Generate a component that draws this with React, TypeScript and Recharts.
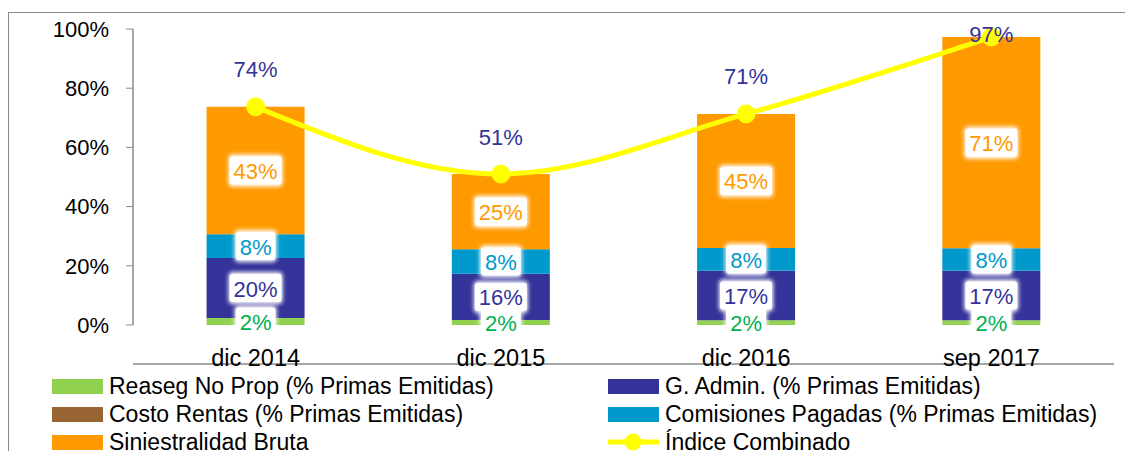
import React from "react";
import { ComposedChart, Bar, Line, XAxis, YAxis, LabelList } from "recharts";

const periods = ["dic 2014", "dic 2015", "dic 2016", "sep 2017"];
const reasegNoProp = [2.4, 1.7, 1.6, 1.6];
const costoRentas = [0, 0, 0, 0];
const gAdmin = [20.2, 15.6, 16.7, 16.7];
const comisiones = [8.1, 8.3, 7.7, 7.6];
const siniestralidad = [43.0, 25.4, 45.3, 71.4];
const indiceCombinado = [73.7, 51.0, 71.3, 97.3];
const yTicks = [0, 20, 40, 60, 80, 100];
const edgeTicks = [0, 1, 2, 3, 4];

const FONT = "'Liberation Sans', Arial, sans-serif";

const data = periods.map((p, i) => ({
  period: p,
  reaseg: reasegNoProp[i],
  costo: costoRentas[i],
  admin: gAdmin[i],
  comis: comisiones[i],
  sini: siniestralidad[i],
  indice: indiceCombinado[i],
}));

const legendItems = [
  { name: "Reaseg No Prop (% Primas Emitidas)", color: "#92D050" },
  { name: "G. Admin. (% Primas Emitidas)", color: "#333399" },
  { name: "Costo Rentas (% Primas Emitidas)", color: "#996633" },
  { name: "Comisiones Pagadas (% Primas Emitidas)", color: "#0099CC" },
  { name: "Siniestralidad Bruta", color: "#FF9900" },
  { name: "Índice Combinado", color: "#FFFF00", line: true },
];

// white glowing box behind each in-bar label, like Excel
const boxLabel = (color: string) => (props: any) => {
  const { x, y, width, height, value } = props;
  if (!value) return null;
  const text = `${Math.round(value)}%`;
  const w = (text.length - 1) * 12.2 + 19.6 + 8;
  const cx = x + width / 2;
  const cy = y + height / 2;
  return (
    <g>
      <rect x={cx - w / 2 - 1} y={cy - 16} width={w + 2} height={32} rx={4} fill="#fff" filter="url(#glow)" />
      <rect x={cx - w / 2} y={cy - 14} width={w} height={28} rx={3} fill="#fff" />
      <text x={cx} y={cy + 1} textAnchor="middle" dominantBaseline="central" fill={color} fontSize={22} fontFamily={FONT}>
        {text}
      </text>
    </g>
  );
};

const lineLabel = (props: any) => {
  const { x, y, value } = props;
  const cy = Math.max(y - 37, 22);
  return (
    <text x={x} y={cy} textAnchor="middle" dominantBaseline="central" fill="#333399" fontSize={22} fontFamily={FONT}>
      {`${Math.round(value)}%`}
    </text>
  );
};

export default function App() {
  return (
    <div style={{ position: "relative", width: 1133, height: 443, overflow: "hidden", fontFamily: FONT }}>
      <style>{`html, body { overflow: hidden; }`}</style>
      <div style={{ position: "absolute", top: 4, left: 0, right: -10, bottom: -10, borderTop: "1px solid #8a8a8a", borderLeft: "1px solid #8a8a8a" }} />
      <div style={{ position: "absolute", top: 4, left: 0 }}>
        <ComposedChart width={1125} height={360} data={data} margin={{ top: 17, right: 19, left: 0, bottom: 7 }} barCategoryGap="30%">
          <defs>
            <filter id="glow" x="-20%" y="-20%" width="140%" height="140%">
              <feGaussianBlur stdDeviation="2" />
            </filter>
          </defs>
          <XAxis
            xAxisId="edges"
            type="number"
            domain={[0, 4]}
            ticks={edgeTicks}
            allowDataOverflow
            height={1}
            tick={false}
            tickSize={7}
            tickLine={{ stroke: "#8a8a8a" }}
            axisLine={{ stroke: "#8a8a8a", strokeWidth: 1.5 }}
          />
          <XAxis
            xAxisId="cat"
            dataKey="period"
            height={39}
            axisLine={false}
            tickLine={false}
            tickSize={0}
            tickMargin={24}
            tick={{ fontSize: 23.5, fill: "#000", fontFamily: FONT }}
          />
          <YAxis
            domain={[0, 100]}
            ticks={yTicks}
            width={125}
            tickFormatter={(v) => `${v}%`}
            tick={{ fontSize: 22, fill: "#000", fontFamily: FONT }}
            tickSize={7}
            tickMargin={17}
            tickLine={{ stroke: "#8a8a8a" }}
            axisLine={{ stroke: "#8a8a8a", strokeWidth: 1.5 }}
          />
          <Bar xAxisId="cat" dataKey="reaseg" stackId="a" fill="#92D050" isAnimationActive={false}>
            <LabelList dataKey="reaseg" content={boxLabel("#00B050")} />
          </Bar>
          <Bar xAxisId="cat" dataKey="costo" stackId="a" fill="#996633" isAnimationActive={false} />
          <Bar xAxisId="cat" dataKey="admin" stackId="a" fill="#333399" isAnimationActive={false}>
            <LabelList dataKey="admin" content={boxLabel("#333399")} />
          </Bar>
          <Bar xAxisId="cat" dataKey="comis" stackId="a" fill="#0099CC" isAnimationActive={false}>
            <LabelList dataKey="comis" content={boxLabel("#0099CC")} />
          </Bar>
          <Bar xAxisId="cat" dataKey="sini" stackId="a" fill="#FF9900" isAnimationActive={false}>
            <LabelList dataKey="sini" content={boxLabel("#FF9900")} />
          </Bar>
          <Line
            xAxisId="cat"
            type="monotone"
            dataKey="indice"
            stroke="#FFFF00"
            strokeWidth={5}
            dot={{ r: 9, fill: "#FFFF00", stroke: "#FFFF00", strokeWidth: 1 }}
            isAnimationActive={false}
          >
            <LabelList dataKey="indice" content={lineLabel} />
          </Line>
        </ComposedChart>
      </div>
      <div
        style={{
          position: "absolute",
          top: 364,
          left: 44,
          display: "grid",
          gridTemplateColumns: "556px 520px",
          fontSize: 23,
          color: "#000",
        }}
      >
        {legendItems.map((it) => (
          <div key={it.name} style={{ display: "flex", alignItems: "center", height: 28, whiteSpace: "nowrap" }}>
            {it.line ? (
              <svg width={51} height={20} style={{ marginRight: 6 }}>
                <line x1={0} y1={10} x2={51} y2={10} stroke={it.color} strokeWidth={5} />
                <circle cx={25} cy={10} r={8.5} fill={it.color} />
              </svg>
            ) : (
              <div style={{ width: 51, height: 15, background: it.color, marginRight: 6 }} />
            )}
            <span>{it.name}</span>
          </div>
        ))}
      </div>
    </div>
  );
}
